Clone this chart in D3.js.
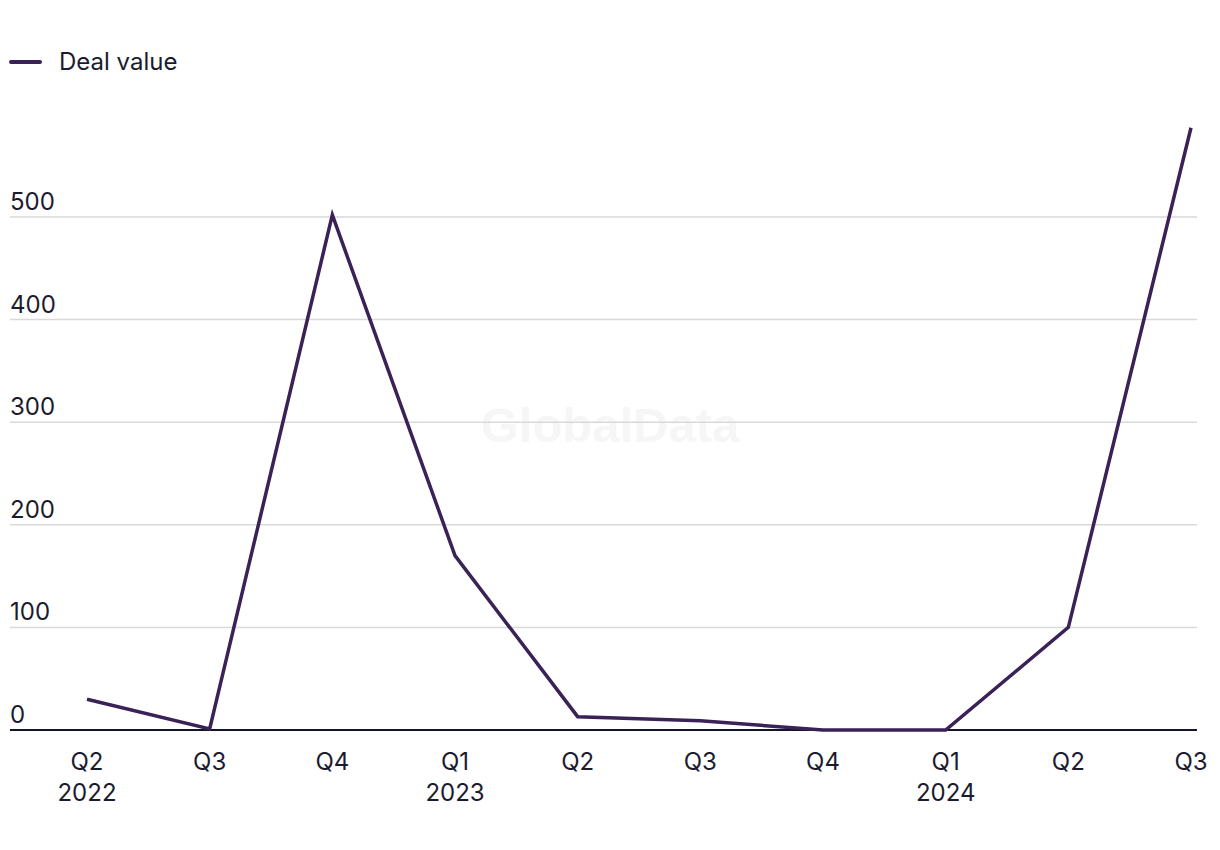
<!DOCTYPE html>
<html><head><meta charset="utf-8">
<script src="https://cdn.jsdelivr.net/npm/d3@7"></script>
<style>body{margin:0;background:#fff}svg{display:block}</style>
</head><body><svg id="c" width="1220" height="850"></svg>
<script>
const quarters = ["Q2","Q3","Q4","Q1","Q2","Q3","Q4","Q1","Q2","Q3"];
const years = ["2022","","","2023","","","","2024","",""];
const dealValue = [30, 1, 502, 170, 13, 9, 0, 0, 100, 587];
const yTicks = [0,100,200,300,400,500];
const seriesName = "Deal value";

const svg = d3.select("#c");
const font = "Inter, 'Liberation Sans', Arial, sans-serif";
const wmFont = "'Liberation Sans', Arial, sans-serif";
const txt = "#1c1b2e";
const lineCol = "#3a2257";
const left = 10, right = 1197;
const fs = 24;
const x = d3.scalePoint().domain(d3.range(quarters.length)).range([87, 1191]);
const y = d3.scaleLinear().domain([0, 500]).range([730, 217]);

// watermark
svg.append("text").attr("x", 610).attr("y", 442).attr("text-anchor","middle")
  .attr("font-family", wmFont).attr("font-weight","bold").attr("font-size",49)
  .attr("fill","#f6f6f6").text("GlobalData");

// gridlines
svg.append("g").selectAll("line").data(yTicks.filter(d=>d>0)).join("line")
  .attr("x1", left).attr("x2", right).attr("y1", d=>y(d)).attr("y2", d=>y(d))
  .attr("stroke","#d9d9d9").attr("stroke-width",1.5);

// y labels
svg.append("g").selectAll("text").data(yTicks).join("text")
  .attr("x", left).attr("y", d=>y(d)-7)
  .attr("font-family", font).attr("font-size",fs).attr("fill",txt)
  .text(d=>d);

// baseline
svg.append("line").attr("x1",left).attr("x2",right).attr("y1",y(0)).attr("y2",y(0))
  .attr("stroke","#14142a").attr("stroke-width",2);

// line
const line = d3.line().x((d,i)=>x(i)).y(d=>y(d));
svg.append("path").datum(dealValue).attr("d", line).attr("fill","none")
  .attr("stroke", lineCol).attr("stroke-width",3.5).attr("stroke-linejoin","miter");

// x labels
const xl = svg.append("g");
xl.selectAll("text.q").data(quarters).join("text").attr("class","q")
  .attr("x",(d,i)=>x(i)).attr("y",770).attr("text-anchor","middle")
  .attr("font-family",font).attr("font-size",fs).attr("fill",txt).text(d=>d);
xl.selectAll("text.yr").data(years).join("text").attr("class","yr")
  .attr("x",(d,i)=>x(i)).attr("y",801).attr("text-anchor","middle")
  .attr("font-family",font).attr("font-size",fs).attr("fill",txt).text(d=>d);

// legend
svg.append("line").attr("x1",11).attr("x2",40).attr("y1",62).attr("y2",62)
  .attr("stroke",lineCol).attr("stroke-width",4).attr("stroke-linecap","round");
svg.append("text").attr("x",59).attr("y",70).attr("font-family",font)
  .attr("font-size",fs).attr("fill",txt).text(seriesName);
</script></body></html>
